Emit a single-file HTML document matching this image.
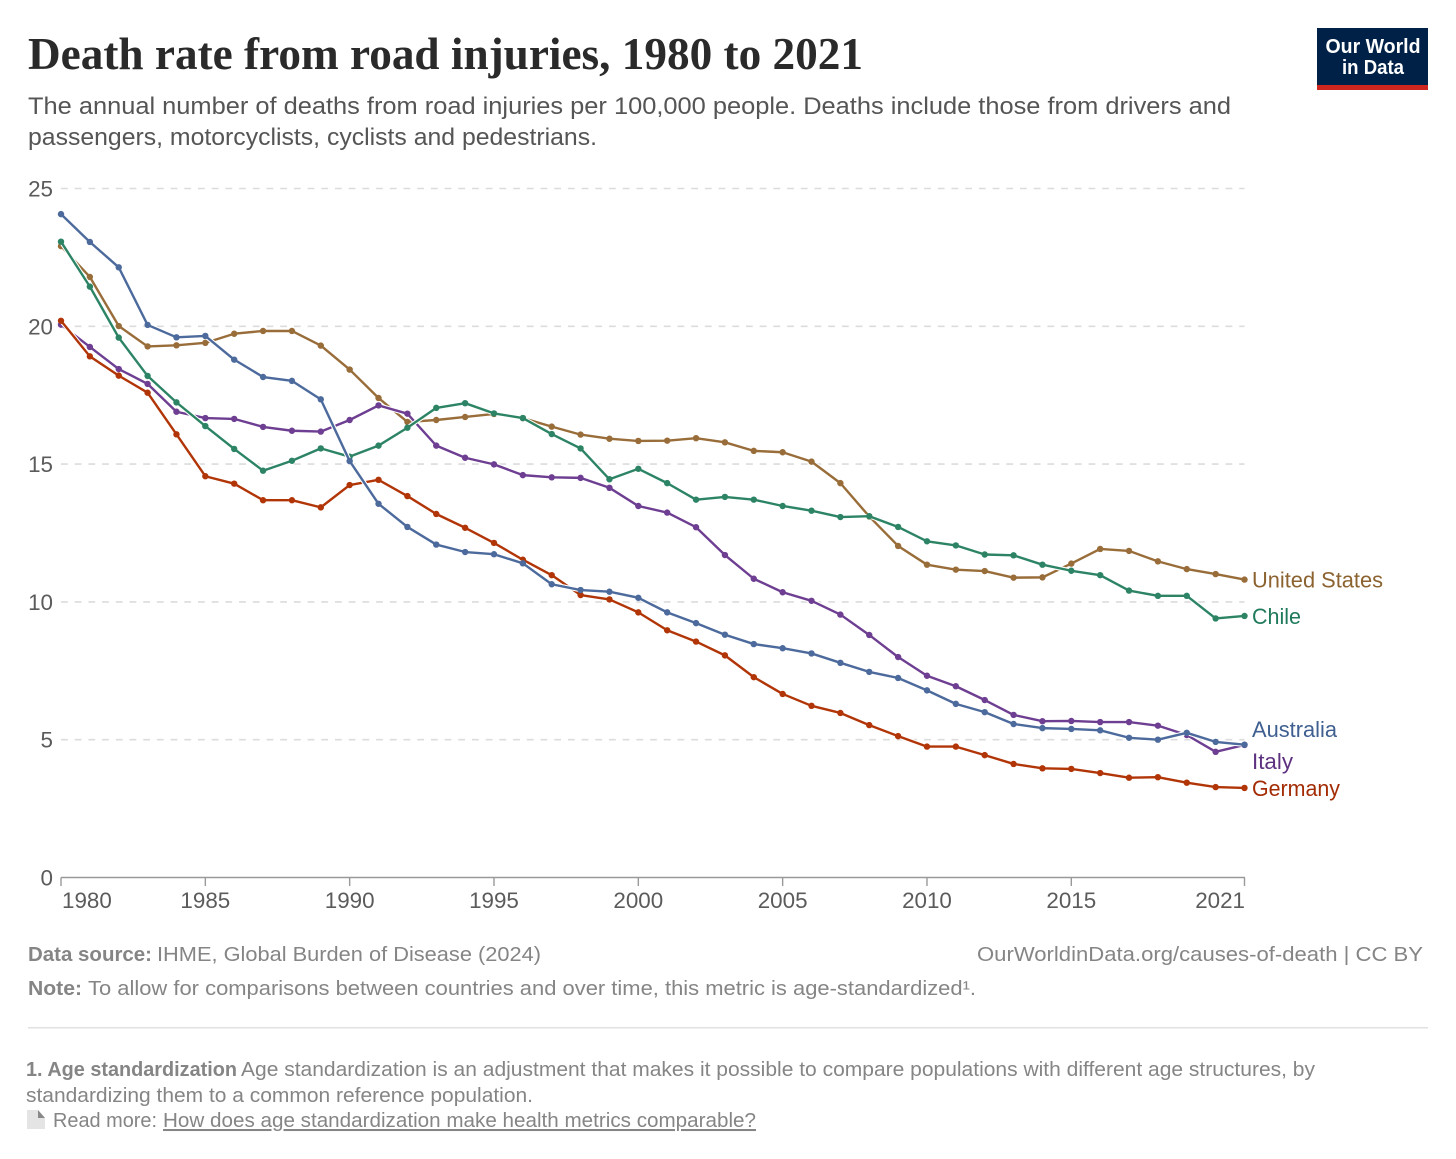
<!DOCTYPE html>
<html lang="en">
<head>
<meta charset="utf-8">
<title>Death rate from road injuries, 1980 to 2021</title>
<style>
  html, body { margin: 0; padding: 0; background: #fff; }
  svg { display: block; font-family: "Liberation Sans", sans-serif; }
  .foot { font-size: 20.5px; fill: #858585; }
  .b { font-weight: bold; }
</style>
</head>
<body>
<svg id="chart" width="1456" height="1159" viewBox="0 0 1456 1159" xmlns="http://www.w3.org/2000/svg">
  <rect width="1456" height="1159" fill="#fff"/>

  <text x="28" y="69" font-family="'Liberation Serif', serif" font-weight="bold" font-size="45" fill="#2a2a2a" textLength="835" lengthAdjust="spacingAndGlyphs">Death rate from road injuries, 1980 to 2021</text>
  <text x="28" y="114" font-size="24" fill="#555" textLength="1203" lengthAdjust="spacingAndGlyphs">The annual number of deaths from road injuries per 100,000 people. Deaths include those from drivers and</text>
  <text x="28" y="145" font-size="24" fill="#555" textLength="569" lengthAdjust="spacingAndGlyphs">passengers, motorcyclists, cyclists and pedestrians.</text>

  <g>
    <rect x="1317" y="28" width="111" height="62" fill="#002147"/>
    <rect x="1317" y="85" width="111" height="5" fill="#ce261e"/>
    <text x="1373" y="53" text-anchor="middle" font-size="20" font-weight="bold" fill="#fff" textLength="95" lengthAdjust="spacingAndGlyphs">Our World</text>
    <text x="1373" y="74" text-anchor="middle" font-size="20" font-weight="bold" fill="#fff" textLength="62" lengthAdjust="spacingAndGlyphs">in Data</text>
  </g>

  <g id="grid"></g>
  <g id="axes"></g>
  <g id="series"></g>

  <text class="foot b" x="28" y="961" textLength="124" lengthAdjust="spacingAndGlyphs">Data source:</text>
  <text class="foot" x="157" y="961" textLength="384" lengthAdjust="spacingAndGlyphs">IHME, Global Burden of Disease (2024)</text>
  <text class="foot" x="977" y="961" textLength="446" lengthAdjust="spacingAndGlyphs">OurWorldinData.org/causes-of-death | CC BY</text>
  <text class="foot b" x="28" y="995" textLength="54" lengthAdjust="spacingAndGlyphs">Note:</text>
  <text class="foot" x="88" y="995" textLength="888" lengthAdjust="spacingAndGlyphs">To allow for comparisons between countries and over time, this metric is age-standardized¹.</text>

  <rect x="28" y="1027" width="1400" height="1.5" fill="#e2e2e2"/>

  <text class="foot b" x="26" y="1076" textLength="211" lengthAdjust="spacingAndGlyphs">1. Age standardization</text>
  <text class="foot" x="241" y="1076" textLength="1074" lengthAdjust="spacingAndGlyphs">Age standardization is an adjustment that makes it possible to compare populations with different age structures, by</text>
  <text class="foot" x="26" y="1102" textLength="507" lengthAdjust="spacingAndGlyphs">standardizing them to a common reference population.</text>
  <g>
    <polygon points="27,1110 38,1110 45,1118 45,1129 27,1129" fill="#e4e4e4"/>
    <polygon points="38,1110 45,1118 38,1118" fill="#888"/>
  </g>
  <text class="foot" x="53" y="1127" textLength="104" lengthAdjust="spacingAndGlyphs">Read more:</text>
  <text class="foot" x="163" y="1127" textLength="593" lengthAdjust="spacingAndGlyphs" text-decoration="underline">How does age standardization make health metrics comparable?</text>
</svg>

<script>
const years = [1980,1981,1982,1983,1984,1985,1986,1987,1988,1989,1990,1991,1992,1993,1994,1995,1996,1997,1998,1999,2000,2001,2002,2003,2004,2005,2006,2007,2008,2009,2010,2011,2012,2013,2014,2015,2016,2017,2018,2019,2020,2021];
const unitedStates = [22.91,21.79,20.01,19.27,19.31,19.40,19.73,19.83,19.83,19.30,18.43,17.40,16.53,16.60,16.71,16.82,16.67,16.36,16.07,15.92,15.84,15.85,15.94,15.79,15.48,15.43,15.09,14.31,13.10,12.03,11.35,11.17,11.12,10.88,10.89,11.39,11.92,11.85,11.47,11.19,11.01,10.81];
const italy = [20.06,19.25,18.45,17.91,16.90,16.67,16.64,16.35,16.21,16.18,16.60,17.13,16.83,15.67,15.23,14.99,14.60,14.52,14.50,14.14,13.48,13.24,12.71,11.70,10.84,10.35,10.04,9.54,8.80,8.00,7.32,6.94,6.44,5.90,5.67,5.68,5.64,5.64,5.51,5.17,4.56,4.81];
const germany = [20.20,18.91,18.21,17.59,16.08,14.56,14.29,13.69,13.69,13.43,14.24,14.43,13.84,13.19,12.69,12.14,11.53,10.97,10.25,10.09,9.62,8.97,8.56,8.06,7.27,6.66,6.23,5.97,5.53,5.13,4.75,4.75,4.44,4.12,3.96,3.94,3.79,3.62,3.64,3.44,3.28,3.25];
const chile = [23.07,21.44,19.59,18.20,17.24,16.38,15.55,14.76,15.12,15.57,15.27,15.67,16.32,17.04,17.21,16.84,16.67,16.09,15.57,14.45,14.83,14.31,13.71,13.81,13.71,13.48,13.31,13.08,13.11,12.72,12.20,12.05,11.72,11.69,11.35,11.13,10.97,10.41,10.22,10.22,9.40,9.49];
const australia = [24.07,23.06,22.14,20.05,19.60,19.65,18.79,18.16,18.02,17.35,15.11,13.56,12.72,12.08,11.81,11.73,11.40,10.64,10.43,10.37,10.15,9.62,9.23,8.81,8.47,8.32,8.13,7.79,7.46,7.24,6.79,6.30,6.00,5.57,5.42,5.39,5.34,5.07,5.00,5.25,4.92,4.82];
const yTicks = [0,5,10,15,20,25];
const xTicks = [1980,1985,1990,1995,2000,2005,2010,2015,2021];

const NS = 'http://www.w3.org/2000/svg';
const plotLeft = 61, plotRight = 1244.5, plotBottom = 877.5, plotTop = 188.5;
function xScale(year) {
  return plotLeft + (year - years[0]) / (years[years.length - 1] - years[0]) * (plotRight - plotLeft);
}
function yScale(value) {
  return plotBottom - value / 25 * (plotBottom - plotTop);
}
function make(tag, attrs, parent, text) {
  const el = document.createElementNS(NS, tag);
  for (const k in attrs) el.setAttribute(k, attrs[k]);
  if (text !== undefined) el.textContent = text;
  parent.appendChild(el);
  return el;
}

const gridGroup = document.getElementById('grid');


const axesGroup = document.getElementById('axes');


const seriesGroup = document.getElementById('series');



yTicks.forEach(function (t) {
  if (t > 0) {
    const line = make('line', { x1: plotLeft, x2: plotRight, y1: yScale(t), y2: yScale(t), stroke: '#dcdcdc', 'stroke-width': 1.6, 'stroke-dasharray': '6.8 6.9' }, gridGroup);
    
    
  }
  const label = make('text', { x: 53, y: yScale(t) + 8, 'text-anchor': 'end', 'font-size': 22.4, fill: '#5b5b5b' }, axesGroup, String(t));
  
  
});

const xAxisLine = make('line', { x1: plotLeft, x2: plotRight + 0.5, y1: plotBottom, y2: plotBottom, stroke: '#999', 'stroke-width': 1.6 }, axesGroup);



xTicks.forEach(function (t, i) {
  const px = xScale(t);
  const tick = make('line', { x1: px, x2: px, y1: plotBottom, y2: plotBottom + 8.5, stroke: '#999', 'stroke-width': 1.4 }, axesGroup);
  
  
  const first = i === 0, last = i === xTicks.length - 1;
  const label = make('text', {
    x: first ? px + 1 : (last ? px + 0.5 : px),
    y: 908,
    'text-anchor': first ? 'start' : (last ? 'end' : 'middle'),
    'font-size': 22.4,
    fill: '#5b5b5b'
  }, axesGroup, String(t));
  
  
});

function drawSeries(name, values, color, labelColor, labelDy, labelWidth) {
  const slug = name.toLowerCase().replace(/\s+/g, '-');
  const group = make('g', {}, seriesGroup);
  
  
  const pts = values.map(function (v, i) {
    return xScale(years[i]).toFixed(2) + ',' + yScale(v).toFixed(2);
  }).join(' ');
  const halo = make('polyline', { points: pts, fill: 'none', stroke: '#fff', 'stroke-width': 4.5, 'stroke-linejoin': 'round' }, group);
  
  
  const line = make('polyline', { points: pts, fill: 'none', stroke: color, 'stroke-width': 2.4, 'stroke-linejoin': 'round' }, group);
  
  
  values.forEach(function (v, i) {
    const dot = make('circle', { cx: xScale(years[i]), cy: yScale(v), r: 3.2, fill: color }, group);
    
    
  });
  const label = make('text', {
    x: 1252, y: yScale(values[values.length - 1]) + labelDy,
    'font-size': 22, fill: labelColor,
    textLength: labelWidth, lengthAdjust: 'spacingAndGlyphs'
  }, group, name);
  
  
}

drawSeries('United States', unitedStates, '#996D39', '#8C6330', 8, 131);
drawSeries('Italy', italy, '#6D3E91', '#5E3180', 24, 41);
drawSeries('Germany', germany, '#B13507', '#A32C05', 8, 88);
drawSeries('Chile', chile, '#2C8465', '#1F7A5A', 8, 49);
drawSeries('Australia', australia, '#4C6A9C', '#3F5F90', -7.5, 85);
</script>
</body>
</html>
